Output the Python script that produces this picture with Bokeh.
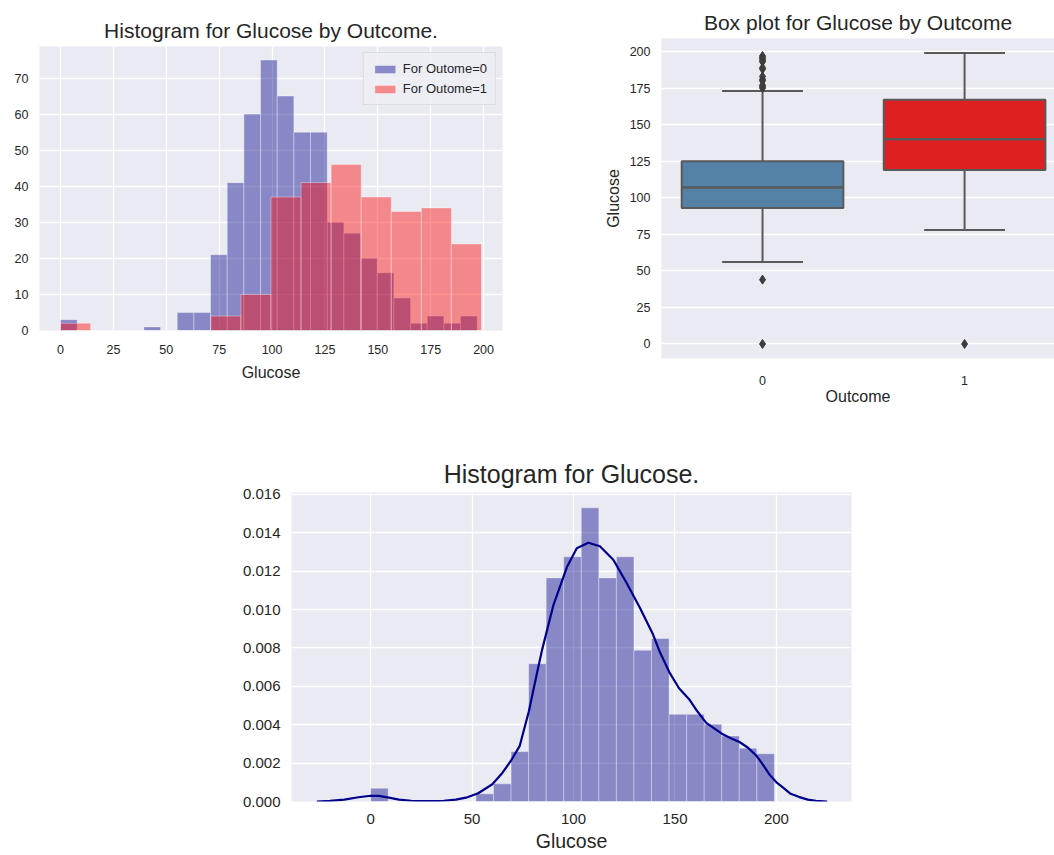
import numpy as np
from bokeh.plotting import figure
from bokeh.layouts import column, row
from bokeh.models import Spacer, FixedTicker, NumeralTickFormatter, Range1d
from bokeh.embed import file_html
from bokeh.resources import INLINE

# ---------------- data ----------------
# Histogram by outcome (counts)
glucose_min0, glucose_max0 = 0, 197
counts_outcome0 = [3, 0, 0, 0, 0, 1, 0, 5, 5, 21, 41, 60, 75, 65, 55, 55, 30, 27, 20, 16, 9, 2, 4, 2, 4]
glucose_min1, glucose_max1 = 0, 199
counts_outcome1 = [2, 0, 0, 0, 0, 4, 10, 37, 41, 46, 37, 33, 34, 24]

# Box plot stats by outcome
box_categories = [0, 1]
box_q1 = [93, 119]
box_median = [107, 140]
box_q3 = [125, 167]
box_whisker_low = [56, 78]
box_whisker_high = [173, 199]
outliers_outcome0 = [0, 44, 175, 176, 177, 180, 181, 183, 188, 189, 193, 194, 195, 196, 197]
outliers_outcome1 = [0]

# Histogram of all glucose (density)
glucose_min, glucose_max = 0, 199
density_all = [0.00069, 0, 0, 0, 0, 0, 0.0004, 0.00092, 0.0026, 0.00718, 0.01165, 0.01275,
               0.0153, 0.01165, 0.01275, 0.00788, 0.00849, 0.00454, 0.00454, 0.00402,
               0.00341, 0.00278, 0.00249]
kde_x = [-26.5, -20, -13, -6, 0, 4, 9, 14, 20, 28, 36, 42, 47, 53, 60, 65, 69, 73.5, 78, 82,
         84.5, 90, 96.7, 101.6, 107.3, 113, 119.6, 126.1, 132.7, 139.2, 142.5, 147.4, 152,
         157.2, 161, 165.4, 169.5, 173.6, 177.5, 181.8, 186, 190, 193.5, 196.6, 200, 203,
         207, 211.3, 215.5, 219.5, 225]
kde_y = [0, 0.00003, 0.0001, 0.00022, 0.0003, 0.00029, 0.0002, 0.0001, 0.00004, 0.00002,
         0.00004, 0.0001, 0.0002, 0.00043, 0.0009, 0.0015, 0.0021, 0.0029, 0.0047, 0.0067,
         0.0079, 0.0102, 0.0122, 0.0132, 0.01348, 0.0133, 0.0126, 0.0114, 0.0101, 0.0087,
         0.0078, 0.0067, 0.0059, 0.0053, 0.0047, 0.0041, 0.0038, 0.0035, 0.0033, 0.0031,
         0.0028, 0.0024, 0.0019, 0.0014, 0.0010, 0.00075, 0.0004, 0.00023, 0.0001, 0.00004, 0]

# ---------------- style ----------------
BG = "#EAEAF2"
TXT = "#262626"
FONT = "Liberation Sans"


def style(p, tick_size="12.5px", label_size="16px", title_size="21px"):
    p.background_fill_color = BG
    p.border_fill_color = "white"
    p.outline_line_color = None
    p.title.text_font = FONT
    p.title.text_font_size = title_size
    p.title.text_font_style = "normal"
    p.title.text_color = TXT
    p.title.align = "center"
    for ax in (p.xaxis, p.yaxis):
        ax.axis_line_color = None
        ax.major_tick_line_color = None
        ax.minor_tick_line_color = None
        ax.major_label_text_font = FONT
        ax.major_label_text_font_size = tick_size
        ax.major_label_text_color = TXT
        ax.axis_label_text_font = FONT
        ax.axis_label_text_font_size = label_size
        ax.axis_label_text_font_style = "normal"
        ax.axis_label_text_color = TXT
    for g in (p.xgrid, p.ygrid):
        g.grid_line_color = "white"
        g.grid_line_width = 1.3


# ---------------- chart 1 ----------------
p1 = figure(width=560, height=410, x_range=Range1d(-9.95, 208.95), y_range=Range1d(0, 78.75),
            title="Histogram for Glucose by Outcome.", output_backend="svg",
            toolbar_location=None, min_border_left=39, min_border_right=58,
            min_border_top=46, min_border_bottom=80, frame_align=False)
style(p1)
e0 = np.linspace(glucose_min0, glucose_max0, len(counts_outcome0) + 1)
e1 = np.linspace(glucose_min1, glucose_max1, len(counts_outcome1) + 1)
p1.quad(left=e0[:-1], right=e0[1:], bottom=0, top=counts_outcome0, fill_color="darkblue",
        fill_alpha=0.42, line_color="white", line_alpha=0.35, line_width=1,
        legend_label="For Outome=0")
p1.quad(left=e1[:-1], right=e1[1:], bottom=0, top=counts_outcome1, fill_color="red",
        fill_alpha=0.42, line_color="white", line_alpha=0.35, line_width=1,
        legend_label="For Outome=1")
p1.xaxis.ticker = FixedTicker(ticks=list(range(0, 201, 25)))
p1.yaxis.ticker = FixedTicker(ticks=list(range(0, 71, 10)))
p1.xaxis.axis_label = "Glucose"
p1.xaxis.major_label_standoff = 8
p1.xaxis.axis_label_standoff = 7
p1.legend.location = "top_right"
p1.legend.label_text_font = FONT
p1.legend.label_text_font_size = "13px"
p1.legend.label_text_color = TXT
p1.legend.background_fill_color = "#EEEEF4"
p1.legend.background_fill_alpha = 0.8
p1.legend.border_line_color = "#CCCCCC"
p1.legend.glyph_width = 26
p1.legend.glyph_height = 10
p1.legend.spacing = 5
p1.legend.padding = 8
p1.legend.margin = 6

# ---------------- chart 2 ----------------
p2 = figure(width=494, height=410, x_range=Range1d(-0.5, 1.445), y_range=Range1d(-9.95, 208.95),
            title="Box plot for Glucose by Outcome", output_backend="svg",
            toolbar_location=None, min_border_left=101, min_border_right=0,
            min_border_top=38, min_border_bottom=52, frame_align=False)
style(p2)
p2.xgrid.grid_line_color = None
box_colors = ["#5481A6", "#DF2020"]
LINE = "#595959"
cats = np.array(box_categories, dtype=float)
p2.segment(x0=cats, x1=cats, y0=box_q3, y1=box_whisker_high, line_color=LINE, line_width=2)
p2.segment(x0=cats, x1=cats, y0=box_q1, y1=box_whisker_low, line_color=LINE, line_width=2)
p2.segment(x0=cats - 0.2, x1=cats + 0.2, y0=box_whisker_high, y1=box_whisker_high, line_color=LINE, line_width=2)
p2.segment(x0=cats - 0.2, x1=cats + 0.2, y0=box_whisker_low, y1=box_whisker_low, line_color=LINE, line_width=2)
p2.quad(left=cats - 0.4, right=cats + 0.4, bottom=box_q1, top=box_q3, fill_color=box_colors,
        line_color=LINE, line_width=2)
p2.segment(x0=cats - 0.4, x1=cats + 0.4, y0=box_median, y1=box_median, line_color=LINE, line_width=2.5)
p2.scatter(x=[box_categories[0]] * len(outliers_outcome0), y=outliers_outcome0, marker="diamond",
           size=9, fill_color="#3d3d3d", line_color="#3d3d3d")
p2.scatter(x=[box_categories[1]] * len(outliers_outcome1), y=outliers_outcome1, marker="diamond",
           size=9, fill_color="#3d3d3d", line_color="#3d3d3d")
p2.xaxis.ticker = FixedTicker(ticks=box_categories)
p2.yaxis.ticker = FixedTicker(ticks=list(range(0, 201, 25)))
p2.xaxis.axis_label = "Outcome"
p2.yaxis.axis_label = "Glucose"
p2.xaxis.major_label_standoff = 11
p2.xaxis.axis_label_standoff = 0

# ---------------- chart 3 ----------------
p3 = figure(width=680, height=445, x_range=Range1d(-39, 237), y_range=Range1d(0, 0.0161),
            title="Histogram for Glucose.", output_backend="svg",
            toolbar_location=None, min_border_left=91, min_border_right=29,
            min_border_top=82, min_border_bottom=54, frame_align=False)
style(p3, tick_size="15px", label_size="19.5px", title_size="25px")
ea = np.linspace(glucose_min, glucose_max, len(density_all) + 1)
p3.quad(left=ea[:-1], right=ea[1:], bottom=0, top=density_all, fill_color="darkblue",
        fill_alpha=0.42, line_color="white", line_alpha=0.35, line_width=1)
p3.line(kde_x, kde_y, line_color="darkblue", line_width=2.2, line_join="round")
p3.xaxis.ticker = FixedTicker(ticks=[0, 50, 100, 150, 200])
p3.yaxis.ticker = FixedTicker(ticks=[0, 0.002, 0.004, 0.006, 0.008, 0.010, 0.012, 0.014, 0.016])
p3.yaxis.formatter = NumeralTickFormatter(format="0.000")
p3.xaxis.axis_label = "Glucose"
p3.xaxis.major_label_standoff = 6
p3.xaxis.axis_label_standoff = 3

layout = column(row(p1, p2), row(Spacer(width=200, height=445), p3))
open("out.html", "w").write(file_html(layout, INLINE))
